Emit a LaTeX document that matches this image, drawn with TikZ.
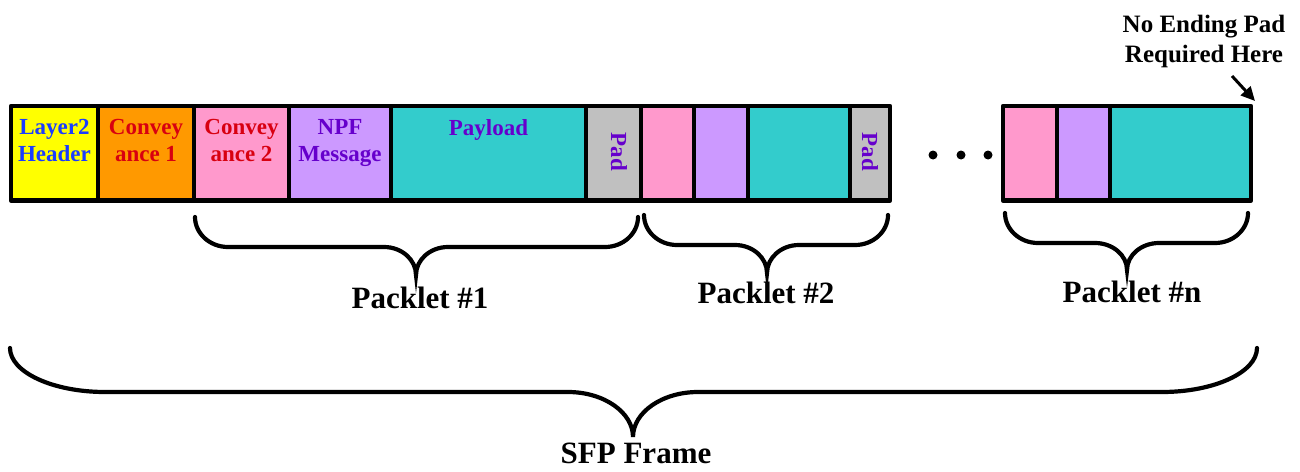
\documentclass[tikz,border=0pt]{standalone}
\usepackage{fontspec}
\setmainfont{Liberation Serif}
\usetikzlibrary{arrows.meta}
\definecolor{cyel}{HTML}{FFFF00}
\definecolor{corg}{HTML}{FF9900}
\definecolor{cpink}{HTML}{FF99CC}
\definecolor{clav}{HTML}{CC99FF}
\definecolor{cteal}{HTML}{33CCCC}
\definecolor{cgrey}{HTML}{C0C0C0}
\definecolor{tblue}{HTML}{1A3CFF}
\definecolor{tred}{HTML}{D80010}
\definecolor{tpurp}{HTML}{6600CC}
% brace: x0, x1, xm, ytop, ymid, ybot, r1 (end radius), r2 (mid radius)
\newcommand\mybrace[8]{%
  \draw[bracestyle] (#1,#4)
    .. controls (#1,{#4+0.55*(#5-#4)}) and ({#1+0.45*#7},#5) .. ({#1+#7},#5)
    -- ({#3-#8},#5)
    .. controls ({#3-0.45*#8},#5) and (#3,{#5+0.45*(#6-#5)}) .. (#3,#6)
    .. controls (#3,{#5+0.45*(#6-#5)}) and ({#3+0.45*#8},#5) .. ({#3+#8},#5)
    -- ({#2-#7},#5)
    .. controls ({#2-0.45*#7},#5) and (#2,{#4+0.55*(#5-#4)}) .. (#2,#4);}
\begin{document}
\begin{tikzpicture}[x=1pt,y=-1pt,
  blk/.style={draw=black, line width=4.5pt, line join=round, inner sep=0pt, outer sep=0pt,
              anchor=north west, minimum height=94.5pt},
  lbl/.style={font=\bfseries\fontsize{23}{27}\selectfont, align=center, inner sep=0pt, anchor=north},
  padlbl/.style={font=\bfseries\fontsize{23}{27}\selectfont, inner sep=0pt, rotate=-90, anchor=center, text=tpurp},
  biglbl/.style={font=\bfseries\fontsize{31}{36}\selectfont, inner sep=0pt, anchor=base},
  bracestyle/.style={draw=black, line width=4.2pt, line cap=round},
  dotst/.style={circle, fill=black, inner sep=0pt, minimum size=9pt},
  arrowst/.style={draw=black, line width=3pt, -{Triangle[length=14pt,width=13pt]}}]
\useasboundingbox (0,0) rectangle (1300,471);

% first part of frame
\node[blk, fill=cyel,  minimum width=87pt]  (l2)   at (11,106) {};
\node[blk, fill=corg,  minimum width=96pt]  (cv1)  at (98,106) {};
\node[blk, fill=cpink, minimum width=95pt]  (cv2)  at (194,106) {};
\node[blk, fill=clav,  minimum width=102pt] (npf)  at (289,106) {};
\node[blk, fill=cteal, minimum width=195pt] (pay)  at (391,106) {};
\node[blk, fill=cgrey, minimum width=55pt]  (pad1) at (586,106) {};
\node[blk, fill=cpink, minimum width=53pt]  (cv2b) at (641,106) {};
\node[blk, fill=clav,  minimum width=54pt]  (npfb) at (694,106) {};
\node[blk, fill=cteal, minimum width=102pt] (payb) at (748,106) {};
\node[blk, fill=cgrey, minimum width=40pt]  (pad2) at (850,106) {};

% last packlet
\node[blk, fill=cpink, minimum width=54pt]  (cv2n) at (1003,106) {};
\node[blk, fill=clav,  minimum width=53pt]  (npfn) at (1057,106) {};
\node[blk, fill=cteal, minimum width=141pt] (payn) at (1110,106) {};

% labels
\node[lbl, text=tblue] (l2t)  at (54.5,119.5) {Layer2\\Header};
\node[lbl, text=tred]  (cv1t) at (146,119.5) {Convey\\ance 1};
\node[lbl, text=tred]  (cv2t) at (241.5,119.5) {Convey\\ance 2};
\node[lbl, text=tpurp] (npft) at (340,119.5) {NPF\\Message};
\node[lbl, text=tpurp] (payt) at (488.5,119.5) {Payload};
\node[padlbl] (pad1t) at (619,152) {Pad};
\node[padlbl] (pad2t) at (870,152) {Pad};

% dots
\node[dotst] (d1) at (933,155) {};
\node[dotst] (d2) at (961,155) {};
\node[dotst] (d3) at (988,155) {};

% note and arrow
\node[font=\bfseries\fontsize{25}{30}\selectfont, align=center, inner sep=0pt, anchor=north] (note) at (1204,14.5) {No Ending Pad\\Required Here};
\coordinate (arrS) at (1232,76);
\coordinate (arrE) at (1255,101);
\draw[arrowst] (arrS) -- (arrE);

% braces
\mybrace{195}{638}{416}{217}{247}{275}{33}{32}
\mybrace{644}{888}{767}{215}{245}{273}{33}{32}
\mybrace{1005}{1248}{1127}{213}{243}{270}{33}{32}
\mybrace{10}{1257}{633}{348}{392}{437}{95}{65}

\node[biglbl] (p1) at (420,308) {Packlet \#1};
\node[biglbl] (p2) at (766,303) {Packlet \#2};
\node[biglbl] (pn) at (1132,302) {Packlet \#n};
\node[biglbl] (sfp) at (636,463) {SFP Frame};
\end{tikzpicture}
\end{document}
